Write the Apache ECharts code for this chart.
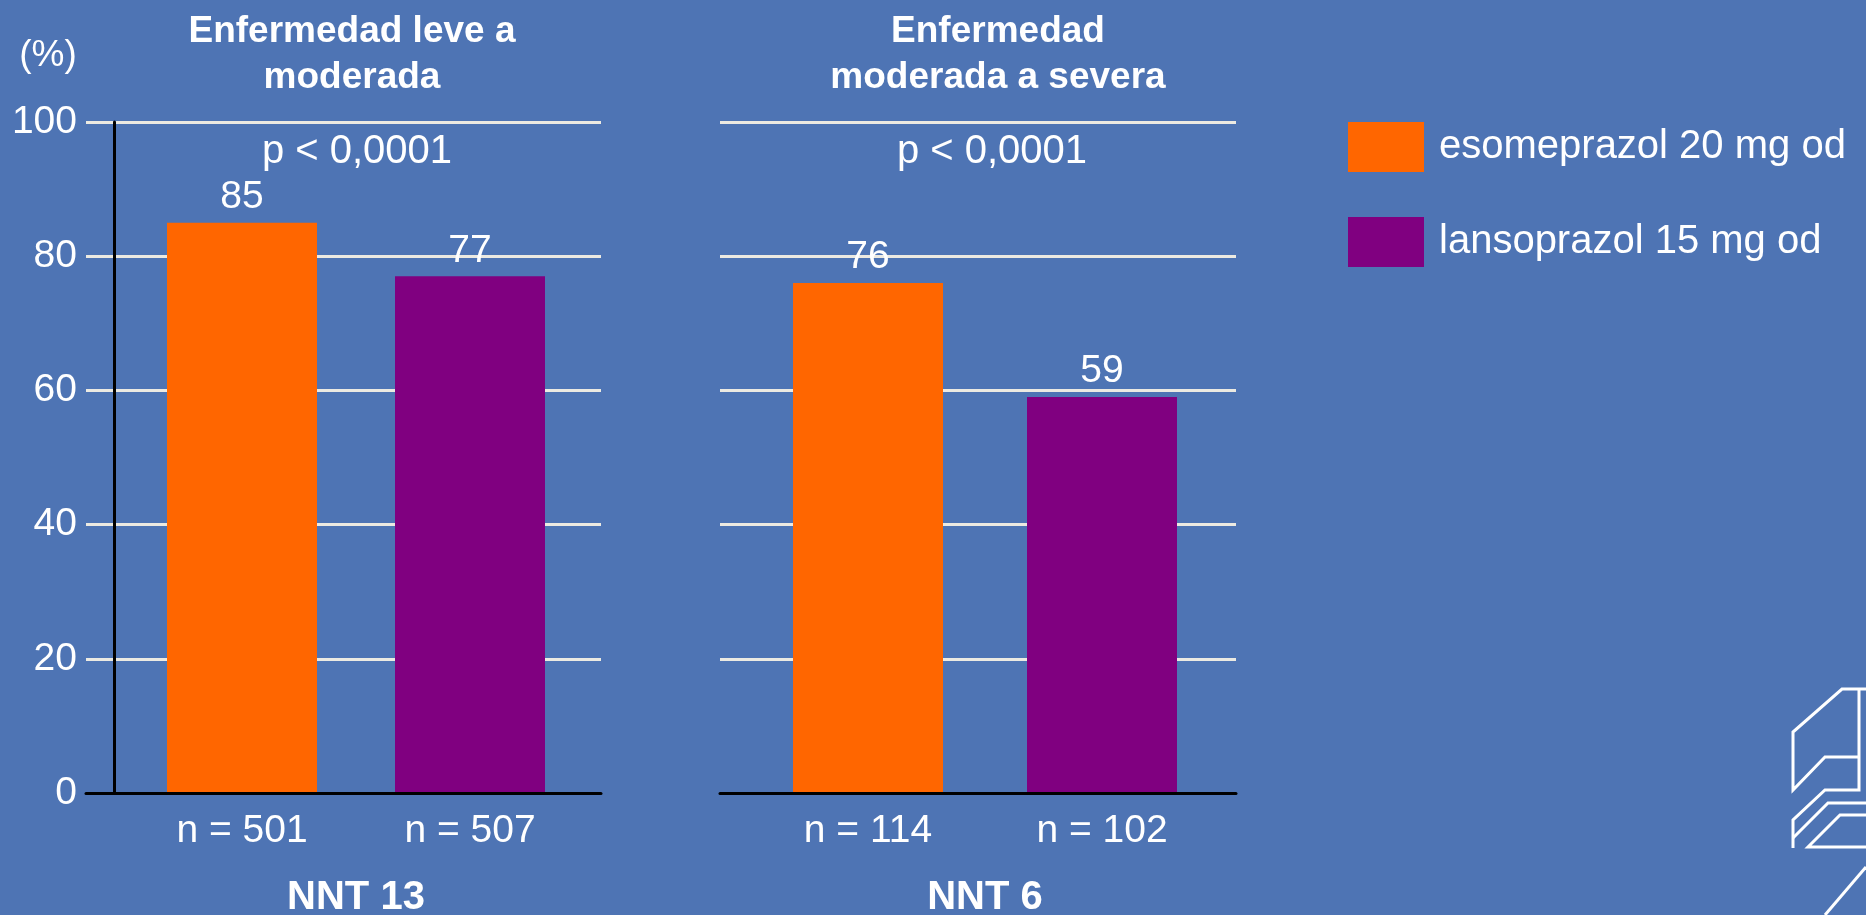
<!DOCTYPE html>
<html><head><meta charset="utf-8">
<script src="https://cdn.jsdelivr.net/npm/echarts@6/dist/echarts.min.js"></script>
<style>html,body{margin:0;padding:0;background:#4E74B4;} #c{width:1866px;height:915px;}</style>
</head><body><div id="c"></div>
<script>
// ---- data ----
const seriesNames = ['esomeprazol 20 mg od', 'lansoprazol 15 mg od'];
const panelTitles = ['Enfermedad leve a\nmoderada', 'Enfermedad\nmoderada a severa'];
const pValues = ['p < 0,0001', 'p < 0,0001'];
const nntLabels = ['NNT 13', 'NNT 6'];
const esomeprazolN = [501, 114];
const lansoprazolN = [507, 102];
const esomeprazolPct = [85, 76];
const lansoprazolPct = [77, 59];
const yMin = 0, yMax = 100, yStep = 20;
const yUnit = '(%)';

// ---- layout / style ----
const FONT = "'Liberation Sans', Arial, sans-serif";
const WHITE = '#FFFFFF';
const ORANGE = '#FF6600';
const PURPLE = '#800080';
const GRIDC = '#ECEAE2';
const TOP = 122, H = 671;
const panels = [
  {lineLeft: 86, lineW: 515, barLeft: 128, barW: 456, bar: 150, titleX: 352, pX: 357},
  {lineLeft: 720, lineW: 516, barLeft: 751, barW: 468, bar: 150, titleX: 998, pX: 992}
];

const grid = [], xAxis = [], yAxis = [], series = [], graphic = [];
panels.forEach((p, i) => {
  grid.push({left: p.lineLeft, width: p.lineW, top: TOP, height: H, containLabel: false, outerBoundsMode: 'none'});
  grid.push({left: p.barLeft, width: p.barW, top: TOP, height: H, containLabel: false, outerBoundsMode: 'none'});
  // gridline panel
  xAxis.push({gridIndex: 2*i, type: 'category', data: [''], z: 5,
    axisLine: {show: true, onZero: false, lineStyle: {color: '#000', width: 3}},
    axisTick: {show: false}, axisLabel: {show: false}, splitLine: {show: false}});
  yAxis.push({gridIndex: 2*i, type: 'value', min: yMin, max: yMax, interval: yStep,
    splitLine: {show: true, lineStyle: {color: GRIDC, width: 3}},
    axisLine: {show: false}, axisTick: {show: false},
    axisLabel: {show: i === 0, color: WHITE, fontSize: 39, fontFamily: FONT, margin: 9}});
  // bar panel
  xAxis.push({gridIndex: 2*i+1, type: 'category',
    data: ['n = ' + esomeprazolN[i], 'n = ' + lansoprazolN[i]],
    axisLine: {show: false}, axisTick: {show: false}, splitLine: {show: false},
    axisLabel: {color: WHITE, fontSize: 39, fontFamily: FONT, margin: 19},
    name: nntLabels[i], nameLocation: 'middle', nameGap: 85,
    nameTextStyle: {color: WHITE, fontSize: 40, fontWeight: 'bold', fontFamily: FONT}});
  yAxis.push({gridIndex: 2*i+1, type: 'value', min: yMin, max: yMax, interval: yStep,
    offset: 14, splitLine: {show: false}, axisTick: {show: false}, axisLabel: {show: false},
    axisLine: {show: i === 0, lineStyle: {color: '#000', width: 3}}});
  const lbl = {show: true, position: 'top', distance: 6, color: WHITE, fontSize: 39, fontFamily: FONT};
  series.push({type: 'bar', name: seriesNames[0], xAxisIndex: 2*i+1, yAxisIndex: 2*i+1,
    data: [esomeprazolPct[i], '-'], barWidth: p.bar, barGap: '-100%',
    itemStyle: {color: ORANGE}, label: lbl, emphasis: {disabled: true}});
  series.push({type: 'bar', name: seriesNames[1], xAxisIndex: 2*i+1, yAxisIndex: 2*i+1,
    data: ['-', lansoprazolPct[i]], barWidth: p.bar, barGap: '-100%',
    itemStyle: {color: PURPLE}, label: lbl, emphasis: {disabled: true}});
  graphic.push({type: 'text', x: p.titleX, y: 55, style: {text: panelTitles[i], fill: WHITE,
    fontSize: 37, fontWeight: 'bold', fontFamily: FONT, lineHeight: 46,
    align: 'center', verticalAlign: 'middle', textAlign: 'center', textVerticalAlign: 'middle'}});
  graphic.push({type: 'text', x: p.pX, y: 152, style: {text: pValues[i], fill: WHITE,
    fontSize: 40, fontFamily: FONT,
    align: 'center', verticalAlign: 'middle', textAlign: 'center', textVerticalAlign: 'middle'}});
});
graphic.push({type: 'text', x: 48, y: 56, style: {text: yUnit, fill: WHITE, fontSize: 37, fontFamily: FONT,
  align: 'center', verticalAlign: 'middle', textAlign: 'center', textVerticalAlign: 'middle'}});
// decorative corner logo
const logoStyle = {stroke: WHITE, lineWidth: 3, fill: null};
[
  [[1866,689],[1842,689],[1793,732],[1793,790],[1825,757],[1859,757]],
  [[1859,689],[1859,790],[1825,790],[1793,820],[1793,848]],
  [[1866,803],[1828,803],[1793,838]],
  [[1866,815],[1840,815],[1808,847],[1866,847]],
  [[1866,867],[1825,915]]
].forEach(pts => graphic.push({type: 'polyline', shape: {points: pts}, style: logoStyle, silent: true}));

const chart = echarts.init(document.getElementById('c'), null, {renderer: 'canvas'});
chart.setOption({
  backgroundColor: '#4E74B4',
  animation: false,
  grid, xAxis, yAxis, series, graphic,
  legend: {show: true, orient: 'vertical', left: 1348, top: 122, padding: 0, itemWidth: 76, itemHeight: 50,
    itemGap: 45, icon: 'rect', selectedMode: false, data: seriesNames,
    textStyle: {color: WHITE, fontSize: 40, fontFamily: FONT, padding: [0, 0, 0, 10]}},
  tooltip: {show: false}
});
</script>
</body></html>
